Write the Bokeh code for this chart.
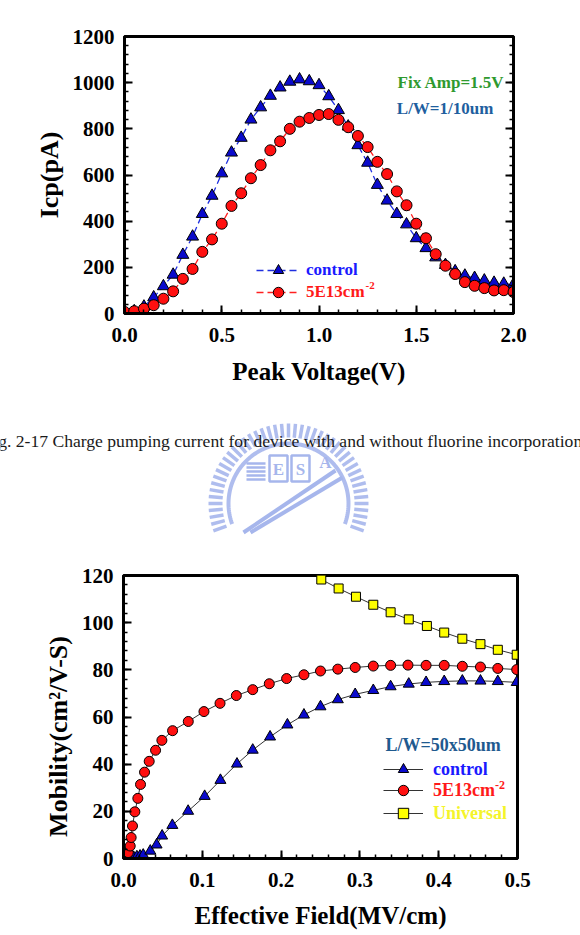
import numpy as np
from bokeh.plotting import figure
from bokeh.layouts import column
from bokeh.models import (Range1d, SingleIntervalTicker, NumeralTickFormatter, LinearAxis,
                          Legend, LegendItem, Label, CustomJSTickFormatter)
from bokeh.core.properties import value
from bokeh.embed import file_html
from bokeh.resources import INLINE

FONT = "Liberation Serif"

# ---------------- data: charge pumping current ----------------
peak_voltage = [0.0, 0.05, 0.1, 0.15, 0.2, 0.25, 0.3, 0.35, 0.4, 0.45, 0.5, 0.55, 0.6, 0.65,
                0.7, 0.75, 0.8, 0.85, 0.9, 0.95, 1.0, 1.05, 1.1, 1.15, 1.2, 1.25, 1.3, 1.35,
                1.4, 1.45, 1.5, 1.55, 1.6, 1.65, 1.7, 1.75, 1.8, 1.85, 1.9, 1.95, 2.0]
icp_control = [5, 10, 30, 70, 118, 168, 254, 333, 431, 510, 607, 697, 761, 840, 893, 943,
               979, 1004, 1014, 1006, 989, 941, 881, 810, 729, 653, 557, 489, 431, 386, 326,
               283, 243, 210, 183, 164, 154, 143, 133, 129, 126]
icp_5e13 = [7, 10, 21, 36, 64, 96, 150, 193, 267, 321, 389, 466, 521, 586, 643, 707, 746,
            800, 831, 847, 860, 864, 839, 807, 769, 721, 657, 604, 529, 469, 389, 326, 257,
            207, 171, 136, 120, 110, 100, 101, 93]

# ---------------- data: mobility ----------------
field_control = [0.0, 0.004, 0.008, 0.013, 0.017, 0.021, 0.025, 0.034, 0.042, 0.049, 0.062,
                 0.082, 0.103, 0.123, 0.144, 0.164, 0.186, 0.208, 0.229, 0.250, 0.272, 0.294,
                 0.317, 0.339, 0.362, 0.384, 0.407, 0.430, 0.453, 0.475, 0.499]
mob_control = [0.0, 0.1, 0.3, 0.5, 0.8, 1.1, 1.5, 3.2, 5.8, 9.6, 14.1, 20.1, 26.4, 33.2, 40.1,
               46.0, 51.6, 56.7, 60.9, 64.4, 67.4, 69.6, 71.3, 72.9, 74.0, 74.7, 75.1, 75.3,
               75.3, 75.1, 74.7]
field_5e13 = [0.0, 0.002, 0.004, 0.006, 0.0085, 0.0097, 0.0114, 0.0144, 0.0182, 0.0216, 0.0267,
              0.0326, 0.0407, 0.0487, 0.0623, 0.0822, 0.1021, 0.1225, 0.1432, 0.164, 0.185,
              0.207, 0.229, 0.250, 0.272, 0.294, 0.317, 0.339, 0.361, 0.384, 0.407, 0.430,
              0.453, 0.475, 0.499]
mob_5e13 = [0.0, 0.3, 1.1, 2.5, 5.3, 8.9, 13.8, 19.8, 25.5, 31.4, 36.6, 41.2, 45.9, 50.1, 54.2,
            58.1, 62.3, 65.8, 69.1, 71.6, 74.1, 76.3, 77.9, 79.5, 80.3, 81.0, 81.6, 81.9, 82.0,
            81.9, 81.9, 81.5, 81.2, 80.6, 80.1]
field_universal = [0.251, 0.273, 0.295, 0.317, 0.339, 0.362, 0.385, 0.407, 0.430, 0.453,
                   0.475, 0.499]
mob_universal = [118.3, 114.5, 111.0, 107.6, 104.4, 101.4, 98.6, 95.8, 93.2, 90.9, 88.5, 86.4]

caption = "Fig. 2-17 Charge pumping current for device with and without fluorine incorporation"


def style_axis(ax, interval, minor, fmt, label, label_size, label_standoff, axis_label_standoff):
    ax.ticker = SingleIntervalTicker(interval=interval, num_minor_ticks=minor)
    if fmt:
        ax.formatter = NumeralTickFormatter(format=fmt)
    ax.axis_label = label
    ax.axis_label_text_font = FONT
    ax.axis_label_text_font_style = "bold"
    ax.axis_label_text_font_size = label_size
    ax.axis_label_text_color = "black"
    ax.axis_label_standoff = axis_label_standoff
    ax.major_label_text_font = FONT
    ax.major_label_text_font_style = "bold"
    ax.major_label_text_font_size = "21px"
    ax.major_label_text_color = "black"
    ax.major_label_standoff = label_standoff
    ax.axis_line_width = 3
    ax.axis_line_color = "black"
    ax.major_tick_in = 8
    ax.major_tick_out = 0
    ax.minor_tick_in = 4
    ax.minor_tick_out = 0
    ax.major_tick_line_width = 2
    ax.minor_tick_line_width = 1.5
    ax.major_tick_line_color = "black"
    ax.minor_tick_line_color = "black"


def make_legend(items, loc, color, size, gw, standoff):
    return Legend(items=items, location=loc, margin=0, padding=0, spacing=0,
                  glyph_width=gw, glyph_height=26, label_height=26,
                  label_standoff=standoff, background_fill_alpha=0, border_line_alpha=0,
                  label_text_font=FONT, label_text_font_style="bold",
                  label_text_font_size=size, label_text_color=color,
                  label_text_baseline="middle")


# ================= top chart =================
p1 = figure(width=580, height=400, output_backend="svg", toolbar_location=None,
            x_range=Range1d(0, 2.0), y_range=Range1d(0, 1200), frame_align=False,
            min_border_left=124, min_border_right=67, min_border_top=36, min_border_bottom=87)
p1.xgrid.visible = False
p1.ygrid.visible = False
p1.outline_line_color = "black"
p1.outline_line_width = 3
style_axis(p1.below[0], 0.5, 5, "0.0", "Peak Voltage(V)", "25px", 14, 13)
style_axis(p1.left[0], 200, 5, None, "Icp(pA)", "26px", 10, 6)
rax = LinearAxis(ticker=SingleIntervalTicker(interval=200, num_minor_ticks=5),
                 formatter=CustomJSTickFormatter(code="return ''"),
                 axis_line_width=3, major_label_standoff=0,
                 major_tick_in=8, major_tick_out=0, minor_tick_in=4, minor_tick_out=0,
                 major_tick_line_width=2, minor_tick_line_width=1.5)
p1.add_layout(rax, "right")

l1 = p1.line(peak_voltage, icp_control, line_color="#1f2fe0", line_width=1.3, line_dash="7 4")
s1 = p1.scatter(peak_voltage, icp_control, marker="triangle", size=12, fill_color="#0a0acc",
                line_color="black", line_width=1)
l2 = p1.line(peak_voltage, icp_5e13, line_color="#ff2020", line_width=1.3, line_dash="7 4")
s2 = p1.scatter(peak_voltage, icp_5e13, marker="circle", size=11, fill_color="#ff1010",
                line_color="black", line_width=1)

p1.add_layout(make_legend([LegendItem(label="control", renderers=[l1, s1])], (132, 30),
                          "#1a1aff", "17px", 44, 6))
p1.add_layout(make_legend([LegendItem(label="5E13cm", renderers=[l2, s2])], (132, 8),
                          "#ff1a1a", "17px", 44, 6))
p1.add_layout(Label(x=1.239, y=122, text="-2", text_font=FONT, text_font_style="bold",
                    text_font_size="11px", text_color="#ff1a1a", text_baseline="middle"))
p1.add_layout(Label(x=1.404, y=1000, text="Fix Amp=1.5V", text_font=FONT,
                    text_font_style="bold", text_font_size="17px", text_color="#2f9a2f",
                    text_baseline="middle"))
p1.add_layout(Label(x=1.40, y=888, text="L/W=1/10um", text_font=FONT,
                    text_font_style="bold", text_font_size="17px", text_color="#1f5f9f",
                    text_baseline="middle"))

# ================= middle: caption + watermark =================
pm = figure(width=580, height=140, output_backend="svg", toolbar_location=None,
            x_range=Range1d(0, 580), y_range=Range1d(540, 400), frame_align=False,
            min_border=0, min_border_left=0, min_border_right=0,
            min_border_top=0, min_border_bottom=0)
pm.axis.visible = False
pm.xgrid.visible = False
pm.ygrid.visible = False
pm.outline_line_color = None

logo_c = "#a6b6ec"
cx, cy, r_in, r_out = 288, 503, 66, 80
ang = np.deg2rad(np.arange(-20, 201, 5))
pm.segment(x0=cx + r_in * np.cos(ang), y0=cy - r_in * np.sin(ang),
           x1=cx + r_out * np.cos(ang), y1=cy - r_out * np.sin(ang),
           line_color=logo_c, line_width=3.5, alpha=0.9)
ang2 = np.deg2rad(np.arange(-20, 201, 2))
pm.line(cx + 60 * np.cos(ang2), cy - 60 * np.sin(ang2), line_color=logo_c, line_width=4, alpha=0.9)
pm.segment(x0=[246] * 5, y0=[463, 467, 471, 475, 479], x1=[265] * 5, y1=[463, 467, 471, 475, 479],
           line_color=logo_c, line_width=2.5)
pm.rect(x=[278, 300], y=[468, 468], width=[18, 18], height=[26, 26], fill_color=None,
        line_color=logo_c, line_width=2.5)
pm.text(x=[278, 300, 325], y=[469, 469, 462], text=["E", "S", "A"], text_font=value(FONT),
        text_font_style="bold", text_font_size="17px", text_color=logo_c,
        text_align="center", text_baseline="middle")
pm.segment(x0=[243, 250], y0=[532, 532], x1=[335, 342], y1=[470, 477], line_color=logo_c,
           line_width=4)
pm.text(x=[-17], y=[440], text=[caption], text_font=value(FONT), text_font_size="17.6px",
        text_color="#1a1a1a", text_baseline="middle", text_align="left")

# ================= bottom chart =================
p2 = figure(width=580, height=395, output_backend="svg", toolbar_location=None,
            x_range=Range1d(0, 0.5), y_range=Range1d(0, 120), frame_align=False,
            min_border_left=123, min_border_right=63, min_border_top=35, min_border_bottom=77)
p2.xgrid.visible = False
p2.ygrid.visible = False
p2.outline_line_color = "black"
p2.outline_line_width = 3
style_axis(p2.below[0], 0.1, 5, "0.0", "Effective Field(MV/cm)", "25px", 14, 12)
style_axis(p2.left[0], 20, 5, None, "Mobility(cm\u00b2/V-S)" + "\u00a0" * 6, "26px", 10, 6)

lc = p2.line(field_control, mob_control, line_color="#333333", line_width=1)
sc = p2.scatter(field_control, mob_control, marker="triangle", size=11, fill_color="#0a0acc",
                line_color="black", line_width=1)
lr = p2.line(field_5e13, mob_5e13, line_color="#333333", line_width=1)
sr = p2.scatter(field_5e13, mob_5e13, marker="circle", size=10, fill_color="#ff1010",
                line_color="black", line_width=1)
lu = p2.line(field_universal, mob_universal, line_color="#333333", line_width=1)
su = p2.scatter(field_universal, mob_universal, marker="square", size=9, fill_color="#ffff00",
                line_color="black", line_width=1)

p2.add_layout(make_legend([LegendItem(label="control", renderers=[lc, sc])], (260, 76),
                          "#1a1aff", "18px", 40, 10))
p2.add_layout(make_legend([LegendItem(label="5E13cm", renderers=[lr, sr])], (260, 55),
                          "#ff1a1a", "18px", 40, 10))
p2.add_layout(make_legend([LegendItem(label="Universal", renderers=[lu, su])], (260, 32),
                          "#f4f42a", "18px", 40, 10))
p2.add_layout(Label(x=0.4715, y=31.0, text="-2", text_font=FONT, text_font_style="bold",
                    text_font_size="12px", text_color="#ff1a1a", text_baseline="middle"))
p2.add_layout(Label(x=0.3325, y=48.3, text="L/W=50x50um", text_font=FONT,
                    text_font_style="bold", text_font_size="18px", text_color="#1f5a8f",
                    text_baseline="middle"))

layout = column(p1, pm, p2, spacing=0)
open("out.html", "w").write(file_html(layout, INLINE))
